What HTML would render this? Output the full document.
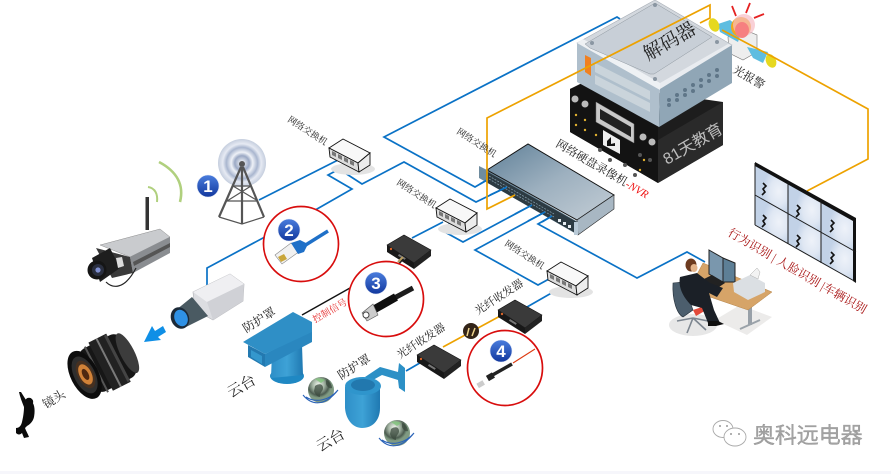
<!DOCTYPE html>
<html><head><meta charset="utf-8">
<style>
html,body{margin:0;padding:0;background:#fff;width:891px;height:474px;overflow:hidden}
svg{display:block}
text{font-family:"Liberation Serif","Noto Serif CJK SC",serif;fill:#222}
</style></head><body>
<svg width="891" height="474" viewBox="0 0 891 474" xmlns="http://www.w3.org/2000/svg">
<defs>
<linearGradient id="badge" x1="0" y1="0" x2="0" y2="1"><stop offset="0" stop-color="#4a7ddd"/><stop offset="1" stop-color="#12389e"/></linearGradient>
<linearGradient id="swtop" x1="0" y1="0" x2="1" y2="1"><stop offset="0" stop-color="#5f8098"/><stop offset=".5" stop-color="#9db0bf"/><stop offset="1" stop-color="#c4ced6"/></linearGradient>
<linearGradient id="blueg" x1="0" y1="0" x2="1" y2="0"><stop offset="0" stop-color="#2e8fc8"/><stop offset=".5" stop-color="#3ea2d6"/><stop offset="1" stop-color="#1f79b2"/></linearGradient>
<radialGradient id="halo"><stop offset="0" stop-color="#fff"/><stop offset=".3" stop-color="#9aa8c4"/><stop offset=".45" stop-color="#eef1f7"/><stop offset=".65" stop-color="#a9b6cf"/><stop offset=".8" stop-color="#e6eaf3"/><stop offset="1" stop-color="#c5cede"/></radialGradient>
<radialGradient id="globe" cx=".4" cy=".3"><stop offset="0" stop-color="#f4f8f0"/><stop offset=".45" stop-color="#a3b4a3"/><stop offset=".8" stop-color="#4c5c50"/><stop offset="1" stop-color="#7f9a82"/></radialGradient>
<radialGradient id="cell" cx=".72" cy=".55"><stop offset="0" stop-color="#eef2f9"/><stop offset=".55" stop-color="#dfe7f3"/><stop offset="1" stop-color="#c2d2e7"/></radialGradient>

<g id="smallsw">
 <ellipse cx="24" cy="21" rx="22" ry="6" fill="#e3e3e3"/>
 <polygon points="0,0 14,-9 41,5 29,15" fill="#f8f8f8" stroke="#111" stroke-width=".9"/>
 <polygon points="0,0 29,15 30,24 1,9" fill="#dcdcdc" stroke="#111" stroke-width=".9"/>
 <polygon points="29,15 41,5 41,17 30,24" fill="#ececec" stroke="#111" stroke-width=".9"/>
 <path d="M3,3l4,2v4l-4-2zM9,6l4,2v4l-4-2zM15,9l4,2v4l-4-2zM21,12l4,2v4l-4-2z" fill="#777"/>
</g>
<g id="trx">
 <polygon points="0,0 17,-10 44,5 27,18" fill="#3a3a3a" stroke="#111" stroke-width=".6"/>
 <polygon points="0,0 27,18 27,24 0,7" fill="#181818"/>
 <polygon points="27,18 44,5 44,11 27,24" fill="#222"/>
 <circle cx="4" cy="4" r="1.2" fill="#d6642a"/><rect x="12" y="9" width="8" height="2" fill="#777" transform="rotate(32 12 9)"/>
</g>
<g id="badgeg"><circle r="11" fill="url(#badge)" stroke="#dfe6f5" stroke-width=".6"/></g>
<g id="globeg">
 <circle r="13" fill="url(#globe)"/>
 <path d="M-6,-4c4-3 8-2 8,2s-3,3-3,9c-3,0-5-3-6-6zM5,-10c3,1 6,4 6,8-2,1-5-1-6-4z" fill="#3b4a3e" opacity=".75"/>
 <path d="M-6,-11c3-1 7-1 10,1l-4,3z" fill="#7fc47a" opacity=".8"/>
 <path d="M-18,5C-8,17 5,15 17,0C8,11 -6,13 -15,7" fill="none" stroke="#2a63b8" stroke-width="1.1"/>
</g>
</defs>

<rect width="891" height="474" fill="#fff"/>
<rect y="471" width="891" height="3" fill="#f6f6fb"/>

<!-- blue connectors -->
<g fill="none" stroke="#0a72c6" stroke-width="1.7" stroke-linejoin="miter">
 <polyline points="259,200 340,159"/>
 <polyline points="207,285 207,268 317,209 352,189 328,175 345,166"/>
 <polyline points="342,171 362,184 404,162 476,202 507,187"/>
 <polyline points="620,19 617,17 384,137 475,187 487,180"/>
 <polyline points="450,223 443,231 463,242 532,205"/>
 <polyline points="412,238 443,222"/>
 <polyline points="545,212 475,250 538,285 549,279"/>
 <polyline points="552,216 538,224 637,278 687,252 705,262"/>
 <polyline points="527,307 562,287"/>
 <polyline points="406,371 425,360"/>
</g>
<!-- black control -->
<polyline points="302,315 350,288" fill="none" stroke="#111" stroke-width="1.4"/>
<polyline points="398,265 404,258" fill="none" stroke="#222" stroke-width="1.6"/>
<!-- fiber -->
<polyline points="443,347 502,315" fill="none" stroke="#eda200" stroke-width="1.6"/>

<!-- Antenna tower -->
<circle cx="242" cy="163" r="24" fill="url(#halo)"/>
<g fill="none" stroke="#555" stroke-width="2.2">
 <path d="M241,167L219,217M243,167L264,217M242,167V224"/>
 <path d="M233,186L251,186M227,201L258,201M219,217L242,224L264,217M233,186L258,201M251,186L227,201" stroke-width="1.2"/>
</g>
<circle cx="242" cy="164" r="3" fill="#555"/>
<use href="#badgeg" x="208" y="186"/>
<text x="208" y="192" font-size="17" font-weight="700" text-anchor="middle" style="fill:#fff;font-family:'Liberation Sans',sans-serif">1</text>

<!-- wifi arcs -->
<path d="M159,162C178,172 184,186 180,202" fill="none" stroke="#b0d07e" stroke-width="2.6"/>
<path d="M148,187C155,188 158,194 157,202" fill="none" stroke="#b0d07e" stroke-width="2"/>

<!-- wifi camera -->
<rect x="145.5" y="197" width="3.5" height="33" fill="#333"/>
<polygon points="100,245 160,229 170,237 130,257" fill="#c9cbce" stroke="#777" stroke-width=".4"/>
<polygon points="130,257 170,237 170,253 133,273" fill="#8a8d91"/>
<polygon points="133,262 170,243 170,247 134,266" fill="#555"/>
<polygon points="96,248 130,257 133,273 112,278" fill="#3a3a3a"/>
<polygon points="92,258 110,248 120,268 100,282" fill="#1e1e1e"/>
<circle cx="97" cy="270" r="9.5" fill="#151515"/>
<circle cx="98" cy="270" r="6" fill="#2a2f3f"/><circle cx="98" cy="270" r="2.6" fill="#7f8fd0"/>
<polygon points="116,258 122,257 124,266 118,268" fill="#ddd"/>
<path d="M106,282C112,288 124,291 136,268" fill="none" stroke="#222" stroke-width="1.2"/>

<!-- box camera -->
<polygon points="193,292 230,274 244,284 243,301 213,320 195,310" fill="#dcdde1" stroke="#b8b9bd" stroke-width=".7"/>
<polygon points="193,292 230,274 244,284 207,302" fill="#efeff2"/>
<polygon points="207,302 244,284 243,301 213,320" fill="#d0d1d6"/>
<polygon points="176,310 192,297 208,316 186,327" fill="#4a5a62"/>
<ellipse cx="180" cy="318" rx="9" ry="11" fill="#1c2a38" transform="rotate(-22 180 318)"/>
<ellipse cx="181" cy="318" rx="6.5" ry="8.5" fill="#2f91e5" transform="rotate(-22 181 318)"/>

<!-- blue arrow -->
<polygon points="144,342 152,326 155,331 163,326 166,332 158,337 161,340" fill="#0f8fe6"/>

<!-- lens -->
<g transform="rotate(-27 106 364)">
 <rect x="84" y="340" width="48" height="48" rx="10" fill="#161616"/>
 <ellipse cx="130" cy="364" rx="7" ry="22" fill="#3c3c3c"/>
 <rect x="100" y="337" width="20" height="54" fill="#222"/>
 <rect x="108" y="337" width="2" height="54" fill="#7a7a7a"/><rect x="117" y="338" width="3" height="52" fill="#444"/>
 <rect x="94" y="339" width="2" height="51" fill="#555"/>
 <ellipse cx="82" cy="364" rx="14" ry="26" fill="#0d0d0d"/>
 <ellipse cx="82" cy="364" rx="10.5" ry="20" fill="#2e2e2e"/>
 <ellipse cx="83" cy="364" rx="8" ry="15" fill="#463020"/>
 <ellipse cx="83" cy="364" rx="6" ry="11" fill="#d18238"/>
 <ellipse cx="83" cy="364" rx="3" ry="6" fill="#4f2810"/>
</g>

<!-- person silhouette -->
<circle cx="29" cy="402" r="4.2" fill="#0b0b0b"/>
<path d="M19,392L21,392L26,400L32,402C35,405 35,412 34,417C33,422 29,425 27,426L25,428C26,431 28,434 29,437L24,438L22,433C20,435 18,435 16,433L16,428C19,428 21,426 22,422C23,418 24,412 24,407C22,402 20,397 19,392Z" fill="#0b0b0b"/>

<!-- red circles -->
<g fill="#fff" stroke="#d80d0d" stroke-width="1.7">
 <circle cx="301" cy="244" r="37.5"/><circle cx="386" cy="299" r="37.5"/><circle cx="505" cy="368" r="37.5"/>
</g>
<!-- RJ45 -->
<polygon points="275,255 291,243 300,251 282,264" fill="#f1f1f1" stroke="#888" stroke-width=".6"/>
<polygon points="278,257 284,254 287,259 281,262" fill="#c9a63a"/>
<polygon points="291,243 300,240 308,244 304,252 298,254" fill="#1f70c8"/>
<line x1="304" y1="246" x2="328" y2="231" stroke="#1f70c8" stroke-width="3.4"/>
<use href="#badgeg" x="289" y="230"/>
<text x="289" y="236" font-size="17" font-weight="700" text-anchor="middle" style="fill:#fff;font-family:'Liberation Sans',sans-serif">2</text>
<!-- BNC -->
<line x1="385" y1="303" x2="413" y2="288" stroke="#1d1d1d" stroke-width="5"/>
<line x1="373" y1="310" x2="396" y2="297" stroke="#0f0f0f" stroke-width="8"/>
<polygon points="362,313 373,304 378,315 367,321" fill="#ccc" stroke="#555" stroke-width=".6"/>
<circle cx="366" cy="315" r="3" fill="#fff" stroke="#444"/>
<use href="#badgeg" x="376" y="283"/>
<text x="376" y="289" font-size="17" font-weight="700" text-anchor="middle" style="fill:#fff;font-family:'Liberation Sans',sans-serif">3</text>
<!-- fiber connector -->
<line x1="513" y1="363" x2="535" y2="349" stroke="#dd3a10" stroke-width="1.1"/>
<line x1="489" y1="377" x2="512" y2="364" stroke="#222" stroke-width="3.4"/>
<rect x="487" y="374" width="7" height="6" fill="#222" transform="rotate(-30 490 377)"/>
<rect x="477" y="382" width="7" height="5" fill="#ccc" transform="rotate(-30 480 384)"/>
<use href="#badgeg" x="501" y="351"/>
<text x="501" y="357" font-size="17" font-weight="700" text-anchor="middle" style="fill:#fff;font-family:'Liberation Sans',sans-serif">4</text>

<!-- small switches -->
<use href="#smallsw" x="329" y="148"/>
<use href="#smallsw" x="436" y="208"/>
<use href="#smallsw" x="547" y="271"/>

<!-- transceivers -->
<use href="#trx" x="387" y="245"/>
<path d="M398,262l5-5" stroke="#b79c60" stroke-width="2"/>
<use href="#trx" x="417" y="355" />
<use href="#trx" x="498" y="310"/>

<!-- fiber junction -->
<circle cx="471" cy="331" r="8" fill="#332418"/>
<path d="M467,336l2-8M472,336l3-8" stroke="#f1d68e" stroke-width="1.5"/>

<!-- blue PTZ housing -->
<ellipse cx="287" cy="376" rx="17" ry="8" fill="#1f88c3"/>
<polygon points="271,378 272,352 302,345 303,375" fill="url(#blueg)"/>
<polygon points="248,345 265,354 265,367 248,357" fill="#2379b0"/>
<polygon points="265,354 312,330 312,342 265,367" fill="#2a87bf"/>
<polygon points="243,342 293,312 312,322 312,332 265,354" fill="#2f8fc6"/>
<polygon points="251,350 262,356 262,364 251,357" fill="#3497cd"/>

<!-- globes -->
<use href="#globeg" x="321" y="390"/>
<use href="#globeg" x="397" y="433"/>

<!-- dome -->
<polygon points="365,377 380,367 398,372 399,363 405,368 405,392 399,388 398,380 382,375 373,380" fill="#2c90c6"/>
<path d="M345,387V408C346,421 354,428 362,428C372,428 380,421 380,408V387Z" fill="url(#blueg)"/>
<ellipse cx="363" cy="386" rx="18" ry="9" fill="#2f95cc"/>
<ellipse cx="363" cy="385" rx="12" ry="6" fill="#2278ae"/>

<!-- NVR black -->
<polygon points="570,89 584,82 723,102 723,145 658,183 570,132" fill="#1d1d1d"/>
<polygon points="658,140 723,102 723,145 658,183" fill="#2a2a2a"/>
<polygon points="570,89 584,83 658,126 658,183 570,132" fill="#131313"/>
<polygon points="596,102 634,124 634,143 596,122" fill="#c9c9c9" stroke="#777" stroke-width=".5"/>
<polygon points="600,109 631,127 631,137 600,119" fill="#222"/>
<polygon points="603,130 620,140 620,154 603,145" fill="#eee"/>
<path d="M607,141l4-4v7l4-1v3h-8z" fill="#111"/>
<g fill="#e0b030"><circle cx="576" cy="115" r="1.2"/><circle cx="585" cy="120" r="1.2"/><circle cx="576" cy="125" r="1.2"/><circle cx="585" cy="130" r="1.2"/><circle cx="596" cy="135" r="1.2"/><circle cx="644" cy="160" r="1.2"/><circle cx="640" cy="170" r="1.2"/></g>
<g fill="#bbb"><circle cx="575" cy="99" r="3.5"/><circle cx="585" cy="104" r="3.5"/><circle cx="643" cy="137" r="3.5"/><circle cx="652" cy="142" r="3.5"/></g>
<g fill="#555"><circle cx="610" cy="160" r="2"/><circle cx="625" cy="165" r="2"/><circle cx="640" cy="155" r="2"/><circle cx="650" cy="160" r="2"/><circle cx="635" cy="175" r="2"/><circle cx="600" cy="150" r="2"/></g>
<text transform="translate(667,165) rotate(-30)" font-size="16" style="fill:#bdbdbd;font-family:'Liberation Sans','Noto Sans CJK SC',sans-serif">81天教育</text>

<!-- Alarm -->
<g>
 <polygon points="728,37 745,30 757,35 757,52 743,60 729,53" fill="#eee" stroke="#777" stroke-width=".6"/>
 <polygon points="718,24 730,20 742,30 738,42 720,32" fill="#5ebde0"/>
 <polygon points="747,47 768,52 763,63 753,58" fill="#5ebde0"/>
 <ellipse cx="714" cy="25" rx="5" ry="7" fill="#e6d820" transform="rotate(-25 714 25)"/>
 <ellipse cx="771" cy="61" rx="5" ry="7" fill="#e6d820" transform="rotate(-25 771 61)"/>
 <circle cx="741" cy="27" r="10" fill="#f2a71b"/>
 <circle cx="744" cy="25" r="11" fill="#f7bcc4" opacity=".7"/>
 <ellipse cx="742" cy="30" rx="7" ry="8" fill="#f68080"/>
 <path d="M736,16L732,6M746,13L750,3M754,18L764,14" stroke="#e52222" stroke-width="1.8" fill="none"/>
</g>
<text transform="translate(732,72) rotate(30)" font-size="11.5">光报警</text>

<!-- Decoder -->
<polygon points="577,43 655,0 732,45 660,87" fill="#d3d8de" stroke="#aab0b8" stroke-width=".6"/>
<polygon points="577,43 660,87 659,127 577,82" fill="#afbfcc"/>
<polygon points="660,87 732,45 732,83 659,127" fill="#90a6b6"/>
<polygon points="577,43 583,39 660,83 660,90" fill="#eef1f4"/>
<polygon points="660,83 728,44 732,45 660,89" fill="#e9ecf0"/>
<polygon points="585,44 655,3 712,37 654,74 650,74 590,48" fill="#c8cfd7" stroke="#8e979f" stroke-width=".5"/>
<polygon points="595,63 650,91 650,100 595,72" fill="#cad4db"/>
<polygon points="595,75 650,103 650,112 595,84" fill="#cad4db"/>
<polygon points="585,55 591,58 591,76 585,72" fill="#f08020"/>
<g fill="#5f7688"><circle cx="669" cy="100" r="2"/><circle cx="677" cy="95" r="2"/><circle cx="685" cy="90" r="2"/><circle cx="693" cy="85" r="2"/><circle cx="701" cy="80" r="2"/><circle cx="709" cy="75" r="2"/><circle cx="717" cy="70" r="2"/><circle cx="669" cy="105" r="2"/><circle cx="677" cy="100" r="2"/><circle cx="685" cy="95" r="2"/><circle cx="693" cy="91" r="2"/><circle cx="701" cy="86" r="2"/><circle cx="709" cy="81" r="2"/><circle cx="717" cy="76" r="2"/></g>
<g fill="#8a96a2"><circle cx="655" cy="5" r="2"/><circle cx="592" cy="43" r="2"/><circle cx="717" cy="42" r="2"/><circle cx="655" cy="79" r="2"/></g>
<text transform="translate(648,61) rotate(-30)" font-size="19">解码器</text>

<!-- big switch -->
<polygon points="479,166 487,170 578,222 578,235 479,178" fill="#6f8c9f"/>
<polygon points="487,170 528,144 614,195 577,220" fill="url(#swtop)" stroke="#111" stroke-width="1"/>
<polygon points="577,220 614,195 614,209 578,235" fill="#a8b7c3" stroke="#222" stroke-width=".6"/>
<polygon points="486,171 577,222 577,234 486,182" fill="#2c3a42"/>
<g stroke="#7f97a6" stroke-width=".8" stroke-dasharray="2 1.2"><line x1="489" y1="176" x2="554" y2="214"/><line x1="489" y1="179" x2="554" y2="217"/></g>
<g fill="#e6ecf1"><rect x="558" y="219" width="3" height="3"/><rect x="563" y="222" width="3" height="3"/><rect x="568" y="225" width="3" height="3"/></g>
<rect x="574" y="222" width="4" height="13" fill="#b8c9d6"/>
<!-- port stubs over switch -->
<g stroke="#0a72c6" stroke-width="1.7" fill="none">
 <line x1="480" y1="184" x2="487" y2="180"/><line x1="490" y1="195" x2="507" y2="187"/>
 <line x1="515" y1="214" x2="532" y2="205"/><line x1="528" y1="221" x2="545" y2="212"/><line x1="542" y1="222" x2="552" y2="216"/>
</g>

<!-- orange lines -->
<g fill="none" stroke="#eda200" stroke-width="1.7">
 <polyline points="700,23 710,18 710,5 487,118 487,209 515,195"/>
 <polyline points="722,30 775,58 868,109 868,159 807,191"/>
</g>

<!-- Video wall -->
<polygon points="755,163 856,219 856,282 755,225" fill="#d5e0ef"/>
<g fill="url(#cell)">
 <polygon points="755,165 788,183 788,213 755,195"/><polygon points="788,183 821,201 821,232 788,213"/><polygon points="821,201 854,220 854,251 821,232"/>
 <polygon points="755,195 788,213 788,244 755,225"/><polygon points="788,213 821,232 821,263 788,244"/><polygon points="821,232 854,251 854,281 821,263"/>
</g>
<polygon points="755,162 856,218 856,283 853,281 853,221 755,166" fill="#111"/>
<g stroke="#1b1b1b" stroke-width="1" fill="none">
 <line x1="755" y1="163" x2="755" y2="225"/><line x1="755" y1="225" x2="856" y2="282"/>
 <line x1="788" y1="182" x2="788" y2="244"/><line x1="821" y1="200" x2="821" y2="263"/><line x1="755" y1="195" x2="856" y2="252"/>
</g>
<g fill="none" stroke="#111" stroke-width="1.6">
 <path d="M763,183l3,3-3,3 2,3-3,3"/><path d="M763,215l3,3-3,3 2,3-3,3"/><path d="M797,205l3,3-3,3 2,3-3,3"/><path d="M797,235l3,3-3,3 2,3-3,3"/><path d="M831,220l3,3-3,3 2,3-3,3"/><path d="M831,252l3,3-3,3 2,3-3,3"/>
</g>

<!-- operator desk -->
<polygon points="715,320 740,305 772,317 747,335" fill="#ecebea"/>
<ellipse cx="693" cy="325" rx="24" ry="11" fill="#e7e7e7"/>
<rect x="748" y="307" width="4" height="18" fill="#98a0a8"/>
<line x1="740" y1="329" x2="760" y2="320" stroke="#9aa2a9" stroke-width="2"/>
<polygon points="703,263 772,292 748,310 710,297 694,280" fill="#d6a468" stroke="#b5854a" stroke-width=".5"/>
<polygon points="709,250 723,258 723,282 709,274" fill="#7a97ad" stroke="#222" stroke-width="1"/>
<polygon points="723,258 735,263 735,282 723,282" fill="#5d7f96" stroke="#222" stroke-width="1"/>
<polygon points="702,280 712,275 725,283 716,289" fill="#222"/>
<polygon points="733,283 750,275 765,283 765,292 748,300 734,292" fill="#dbdfe3"/>
<polygon points="750,275 757,268 760,272 758,279" fill="#f3f3f3" stroke="#999" stroke-width=".4"/>
<!-- chair -->
<path d="M673,283L683,282L693,310L683,317C677,314 672,300 673,283Z" fill="#4c5e6d" stroke="#232e38" stroke-width=".6"/>
<polygon points="693,310 708,305 708,309 696,316" fill="#e24a3a"/>
<path d="M693,318L677,321M693,318L706,330M693,318L687,333M693,318L708,321" stroke="#7d8690" stroke-width="1.6" fill="none"/>
<!-- person -->
<path d="M680,277L697,273L710,283L723,288L717,297L709,293L714,310L720,323L708,323L702,308L691,305C683,297 678,287 680,277Z" fill="#1b2027"/>
<path d="M708,321h10l6,3-8,2h-8z" fill="#0f0f0f"/>
<ellipse cx="691" cy="265" rx="5.5" ry="6.5" fill="#6d3b1f"/>
<ellipse cx="694" cy="268" rx="3.5" ry="4" fill="#e4b48a"/>

<!-- Labels -->
<text transform="translate(287,121) rotate(33)" font-size="9">网络交换机</text>
<text transform="translate(456,133) rotate(33)" font-size="9">网络交换机</text>
<text transform="translate(396,184) rotate(33)" font-size="9">网络交换机</text>
<text transform="translate(504,245) rotate(33)" font-size="9">网络交换机</text>
<text transform="translate(555,146) rotate(30)" font-size="11.5">网络硬盘录像机<tspan style="fill:#e11;font-style:italic;font-size:11px">-NVR</tspan></text>
<text transform="translate(246,333) rotate(-32)" font-size="12">防护罩</text>
<text transform="translate(231,398) rotate(-30)" font-size="15">云台</text>
<text transform="translate(341,380) rotate(-32)" font-size="12">防护罩</text>
<text transform="translate(320,452) rotate(-30)" font-size="15">云台</text>
<text transform="translate(46,409) rotate(-32)" font-size="12">镜头</text>
<text transform="translate(400,359) rotate(-33)" font-size="11">光纤收发器</text>
<text transform="translate(478,315) rotate(-33)" font-size="11">光纤收发器</text>
<text transform="translate(315,323) rotate(-30)" font-size="9.5" style="fill:#e52a2a">控制信号</text>
<text transform="translate(727,235) rotate(30)" font-size="12" style="fill:#a81414">行为识别 | 人脸识别 |车辆识别</text>

<!-- Watermark -->
<g fill="#fff" stroke="#aaa" stroke-width=".9">
 <ellipse cx="723" cy="429" rx="10" ry="8.5"/>
 <ellipse cx="735" cy="437" rx="11" ry="9"/>
</g>
<g fill="#999"><circle cx="720" cy="426" r="1"/><circle cx="727" cy="426" r="1"/><circle cx="731" cy="434" r="1"/><circle cx="739" cy="434" r="1"/></g>
<text x="753" y="443" font-size="22" letter-spacing="-.1" style="fill:#a3a3a3;stroke:#8c8c8c;stroke-width:.3;font-family:'Liberation Sans','Noto Sans CJK SC',sans-serif">奥科远电器</text>
</svg>
</body></html>
